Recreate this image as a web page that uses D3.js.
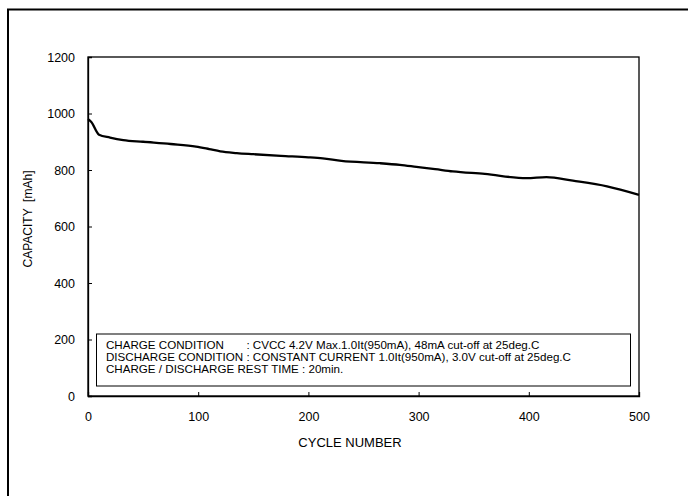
<!DOCTYPE html>
<html>
<head>
<meta charset="utf-8">
<script src="https://cdn.jsdelivr.net/npm/d3@7"></script>
<style>
html,body{margin:0;padding:0;background:#fff;}
svg{display:block;font-family:"Liberation Sans",Arial,sans-serif;}
</style>
</head>
<body>
<svg id="chart" width="688" height="496"></svg>
<script>
const cycles   = [0, 3, 10, 20, 32, 50, 75, 98, 110, 120, 135, 150, 175, 200, 213, 230, 265, 283, 298, 315, 331, 360, 398, 416, 440, 471, 500];
const capacity = [980, 970, 925, 915, 906, 900, 892, 883, 874, 866, 860, 856, 850, 845, 841, 832, 824, 818, 811, 803, 795, 786, 771, 775, 762, 742, 712];
const xTicks = [0, 100, 200, 300, 400, 500];
const yTicks = [0, 200, 400, 600, 800, 1000, 1200];
const noteLabels = ["CHARGE CONDITION", "DISCHARGE CONDITION", "CHARGE / DISCHARGE REST TIME"];
const noteValues = [
  ": CVCC 4.2V Max.1.0It(950mA), 48mA cut-off at 25deg.C",
  ": CONSTANT CURRENT 1.0It(950mA), 3.0V cut-off at 25deg.C",
  ": 20min."
];
const xTitle = "CYCLE NUMBER";
const yTitle = "CAPACITY  [mAh]";

const svg = d3.select("#chart");
const L = 88, R = 639, T = 57, B = 396;

// outer frame
svg.append("rect").attr("x", 8).attr("y", 9.5).attr("width", 700).attr("height", 520)
  .attr("fill", "none").attr("stroke", "#000").attr("stroke-width", 2);

const x = d3.scaleLinear().domain([0, 500]).range([L, R]);
const y = d3.scaleLinear().domain([0, 1200]).range([B, T]);

// plot frame
svg.append("rect").attr("x", L).attr("y", T).attr("width", R - L).attr("height", B - T)
  .attr("fill", "none").attr("stroke", "#000").attr("stroke-width", 1.3);

const xAxis = svg.append("g").attr("transform", `translate(0,${B})`)
  .call(d3.axisBottom(x).tickValues(xTicks).tickSize(-4).tickPadding(16).tickFormat(d3.format("d")));
const yAxis = svg.append("g").attr("transform", `translate(${L},0)`)
  .call(d3.axisLeft(y).tickValues(yTicks).tickSize(-4).tickPadding(13).tickFormat(d3.format("d")));
[xAxis, yAxis].forEach(g => {
  g.select(".domain").attr("stroke", "#000").attr("stroke-width", 1.3);
  g.selectAll(".tick line").attr("stroke", "#000");
  g.selectAll(".tick text").attr("font-size", 12.5).attr("fill", "#000")
    .attr("font-family", "'Liberation Sans',Arial,sans-serif");
});

// curve
const data = cycles.map((c, i) => ({c, v: capacity[i]}));
svg.append("path").datum(data)
  .attr("fill", "none").attr("stroke", "#000").attr("stroke-width", 2.3)
  .attr("stroke-linejoin", "round")
  .attr("d", d3.line().x(d => x(d.c)).y(d => y(d.v)).curve(d3.curveMonotoneX));

// note box
svg.append("rect").attr("x", 96.5).attr("y", 334).attr("width", 534).attr("height", 52)
  .attr("fill", "#fff").attr("stroke", "#000").attr("stroke-width", 1);
const noteG = svg.append("g").attr("font-size", 11.6).attr("fill", "#000");
const labels = noteG.selectAll("text.lab").data(noteLabels).join("text").attr("class", "lab")
  .attr("x", 106).attr("y", (d, i) => 349 + i * 11.8).text(d => d);
const labW = labels.nodes().map(n => n.getComputedTextLength());
const colonX = 106 + labW[1] + 3.2;
noteG.selectAll("text.val").data(noteValues).join("text").attr("class", "val")
  .attr("x", (d, i) => i === 2 ? 106 + labW[2] + 3.2 : colonX)
  .attr("y", (d, i) => 349 + i * 11.8).text(d => d);

// axis titles
svg.append("text").attr("x", 350).attr("y", 446.5).attr("text-anchor", "middle")
  .attr("font-size", 13).text(xTitle);
svg.append("text").attr("transform", `translate(32,219) rotate(-90)`).attr("text-anchor", "middle")
  .attr("font-size", 12).style("white-space", "pre").text(yTitle);
</script>
</body>
</html>
